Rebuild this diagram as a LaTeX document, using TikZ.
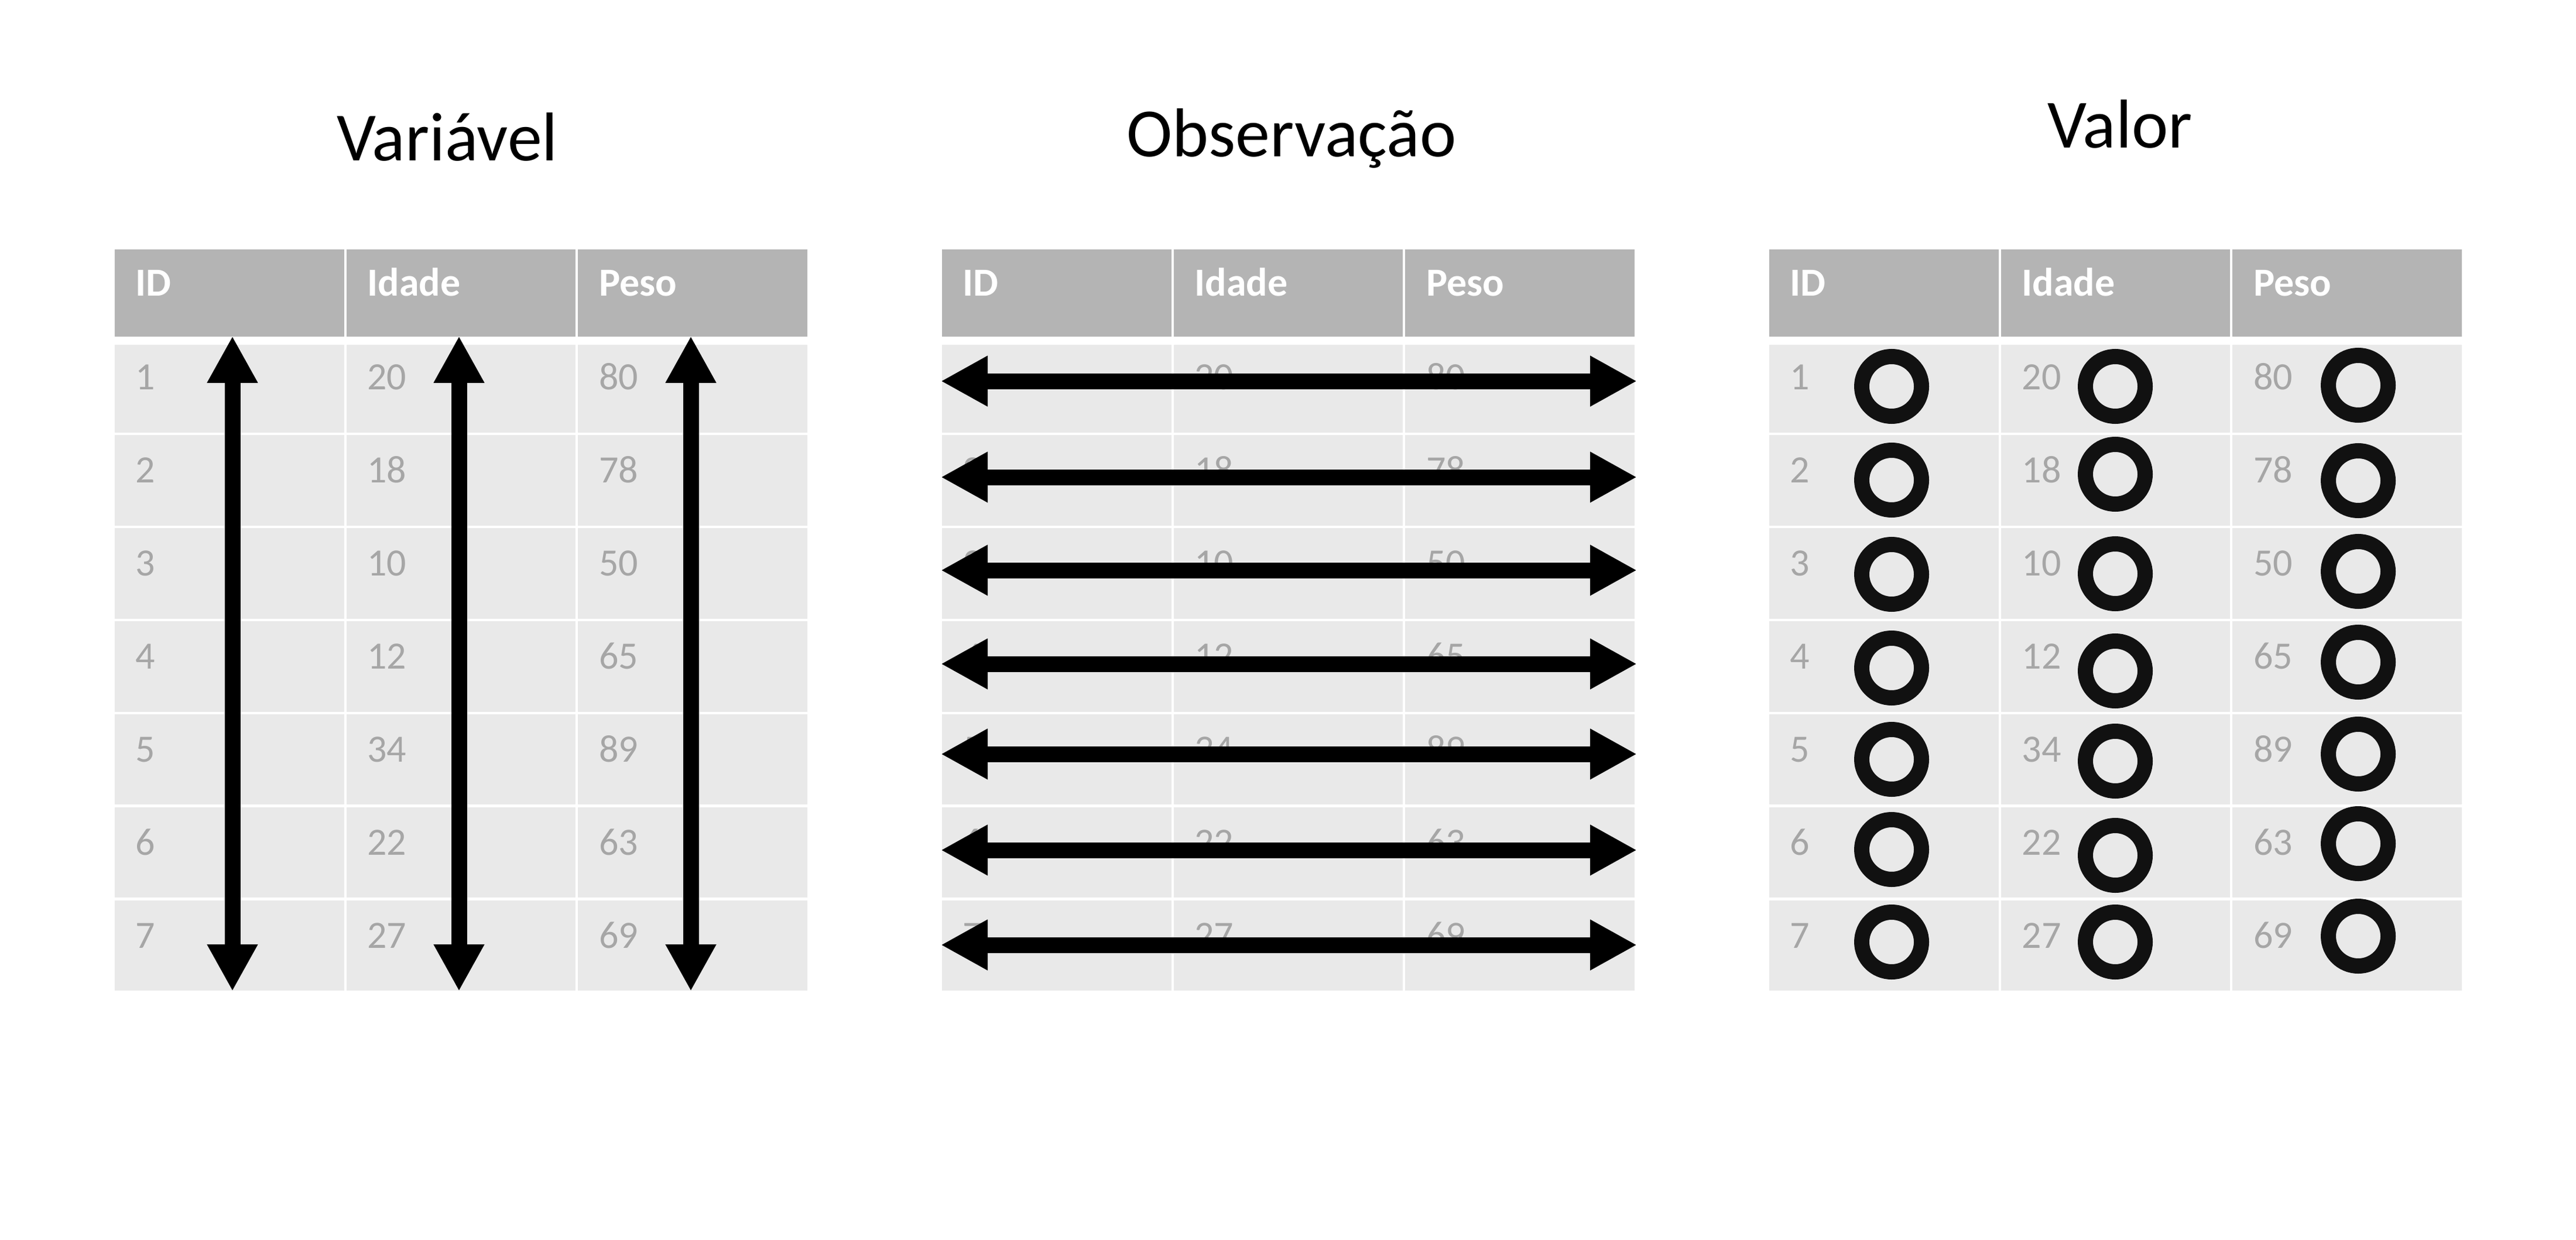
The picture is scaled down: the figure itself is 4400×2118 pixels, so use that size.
\documentclass[tikz,border=0pt]{standalone}
\usepackage{fontspec}
\setmainfont{Carlito}
\usetikzlibrary{arrows.meta}
\definecolor{hdrfill}{HTML}{B4B4B4}
\definecolor{rowfill}{HTML}{E9E9E9}
\definecolor{celltext}{HTML}{A6A6A6}
\definecolor{ringcol}{HTML}{111111}
\tikzset{
  titletext/.style={anchor=base, inner sep=0pt, font=\fontsize{29.5pt}{34pt}\selectfont, text=black},
  hdrtext/.style={anchor=base west, inner sep=0pt, font=\fontsize{17pt}{20pt}\selectfont\bfseries, text=white},
  celltextstyle/.style={anchor=base west, inner sep=0pt, font=\fontsize{16.5pt}{20pt}\selectfont, text=celltext},
  bigarrow/.style={line width=6.75pt, black,
    {Triangle[length=20pt,width=20.25pt]}-{Triangle[length=20pt,width=20.25pt]}},
  ringmark/.style={circle, draw=ringcol, line width=6.5pt, minimum size=25.5pt, inner sep=0pt}
}
\begin{document}
\begin{tikzpicture}[x=0.25pt,y=-0.25pt]
\path[use as bounding box] (0,0) rectangle (4400,2118);
\fill[white] (0,0) rectangle (4400,2118);

% titles
\node[titletext] (tvar) at (764,275) {Variável};
\node[titletext] (tobs) at (2206,268) {Observação};
\node[titletext] (tval) at (3621,253) {Valor};

% tables
\foreach \t in {0,1,2} {
  \pgfmathsetmacro\L{196+1413*\t}
  \foreach \c/\h in {0/ID,1/Idade,2/Peso} {
    \pgfmathsetmacro\cx{\L+395.7*\c}
    \fill[hdrfill] (\cx,426) rectangle (\cx+391.7,575);
    \node[hdrtext] (h\t\c) at (\cx+35,506) {\h};
  }
  \foreach \r/\top/\bot/\bl/\va/\vb/\vc in {
      1/589/739/665/1/20/80,
      2/743/898/824/2/18/78,
      3/902/1057/983/3/10/50,
      4/1061/1216/1142/4/12/65,
      5/1220/1374/1301/5/34/89,
      6/1379/1533/1460/6/22/63,
      7/1538/1692/1619/7/27/69} {
    \foreach \c/\v in {0/\va,1/\vb,2/\vc} {
      \pgfmathsetmacro\cx{\L+395.7*\c}
      \fill[rowfill] (\cx,\top) rectangle (\cx+391.7,\bot);
      \node[celltextstyle] (d\t\r\c) at (\cx+35,\bl) {\v};
    }
  }
}

% Variavel: vertical arrows
\foreach \c/\x in {0/397,1/784,2/1180} {
  \coordinate (vtop\c) at (\x,574);
  \coordinate (vbot\c) at (\x,1693);
  \draw[bigarrow] (vtop\c) -- (vbot\c);
}

% Observacao: horizontal arrows
\foreach \r/\y in {1/651,2/815,3/974,4/1134,5/1288,6/1452,7/1614} {
  \coordinate (oleft\r) at (1607,\y);
  \coordinate (oright\r) at (2796,\y);
  \draw[bigarrow] (oleft\r) -- (oright\r);
}

% Valor: rings
\foreach \r/\ya/\yb/\yc in {
    1/660/660/658,
    2/820/810/821,
    3/981/980/976,
    4/1141/1146/1131,
    5/1297/1300/1288,
    6/1451/1461/1441,
    7/1609/1609/1599} {
  \node[ringmark] (ra\r) at (3231,\ya) {};
  \node[ringmark] (rb\r) at (3613,\yb) {};
  \node[ringmark] (rc\r) at (4028,\yc) {};
}
\end{tikzpicture}
\end{document}
